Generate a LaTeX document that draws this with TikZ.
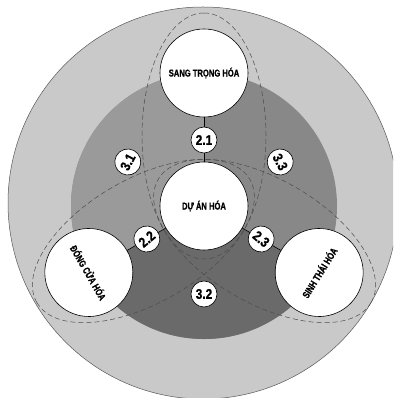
\documentclass[tikz,border=0pt]{standalone}
\usepackage{fontspec}
\newfontfamily\labfont[FakeStretch=0.76,BoldFont={* Bold},BoldFeatures={FakeBold=0.8}]{Liberation Sans}
\newfontfamily\numfont[FakeStretch=0.85,BoldFont={* Bold},BoldFeatures={FakeBold=0.8}]{Liberation Sans}
\definecolor{outerc}{HTML}{C9C9C9}
\definecolor{upL}{HTML}{9A9A9A}
\definecolor{upR}{HTML}{888888}
\definecolor{lowc}{HTML}{6A6A6A}
\begin{document}
\begin{tikzpicture}[x=1pt,y=1pt,
  sat/.style={circle,draw=black,line width=0.6pt,fill=white,minimum size=88pt,inner sep=0pt,
    font=\labfont\bfseries\fontsize{10}{11}\selectfont},
  tag/.style={circle,draw=black,line width=0.6pt,fill=white,minimum size=26pt,inner sep=0pt,
    font=\numfont\bfseries\fontsize{14}{14}\selectfont},
  ell/.style={draw=black!70,line width=0.5pt,dash pattern=on 5pt off 3pt},
  link/.style={draw=black,line width=0.6pt}]
\useasboundingbox (0,0) rectangle (393,398);
\clip (0,0) rectangle (393,398);
\fill[white] (0,0) rectangle (393,398);
\coordinate (C) at (204,192);
\filldraw[fill=outerc,draw=black!65,line width=0.5pt] (203,195) ellipse[x radius=195,y radius=196];
\fill[upR] (C) circle[radius=133];
\fill[upL] (C) -- ++(90:133) arc[start angle=90,end angle=210,radius=133] -- cycle;
\fill[lowc] (C) -- ++(210:133) arc[start angle=210,end angle=330,radius=133] -- cycle;
\foreach \a in {90,210,330}
  \draw[ell,shift={(C)},rotate=\a] (70,0) ellipse[x radius=123,y radius=62];
\node[sat] (cen) at (C) {DỰ ÁN HÓA};
\node[sat] (top) at ([shift={(90:133)}]C) {SANG TRỌNG HÓA};
\node[sat,rotate=-60] (left) at ([shift={(210:133)}]C) {ĐÓNG CỬA HÓA};
\node[sat,rotate=58] (right) at ([shift={(330:133)}]C) {SINH THÁI HÓA};
\draw[link] (cen) -- (top);
\draw[link] (cen) -- (left);
\draw[link] (cen) -- (right);
\node[tag] (t21) at ([shift={(90:66)}]C) {2.1};
\node[tag,rotate=40] (t22) at ([shift={(210:66)}]C) {2.2};
\node[tag,rotate=-40] (t23) at ([shift={(330:66)}]C) {2.3};
\node[tag,rotate=62] (t31) at ([shift={(150:88)}]C) {3.1};
\node[tag,rotate=-62] (t33) at ([shift={(30:88)}]C) {3.3};
\node[tag] (t32) at ([shift={(270:88)}]C) {3.2};
\end{tikzpicture}
\end{document}
